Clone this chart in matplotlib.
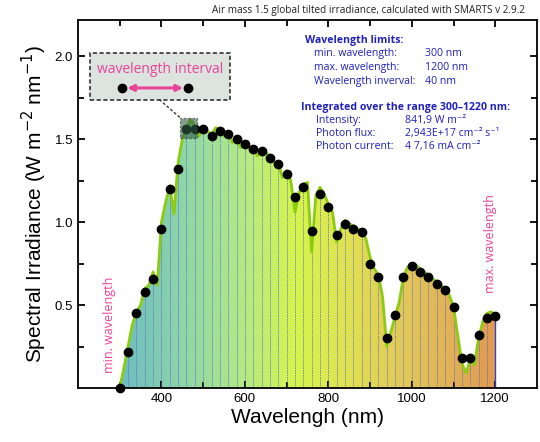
import numpy as np
import matplotlib.pyplot as plt
from matplotlib.colors import LinearSegmentedColormap
from matplotlib.patches import Rectangle

# sampled points every 20 nm (black dots)
wl_pts = np.arange(300, 1201, 20)
irr_pts = [0.00, 0.22, 0.45, 0.58, 0.66, 0.96, 1.20, 1.32, 1.56, 1.56,
           1.56, 1.52, 1.55, 1.53, 1.50, 1.47, 1.44, 1.43, 1.39, 1.35,
           1.29, 1.15, 1.21, 0.95, 1.17, 1.09, 0.92, 0.99, 0.96, 0.94,
           0.75, 0.67, 0.30, 0.44, 0.67, 0.735, 0.70, 0.67, 0.63, 0.59,
           0.49, 0.18, 0.18, 0.32, 0.42, 0.435]

# fine spectrum (green line), read every 10 nm
wl_fine = np.arange(300, 1201, 10)
irr_fine = [0.00, 0.12, 0.25, 0.38, 0.46, 0.50, 0.60, 0.62, 0.70, 0.62,
            1.00, 1.12, 1.22, 1.05, 1.36, 1.50, 1.57, 1.62, 1.58, 1.52,
            1.58, 1.55, 1.53, 1.57, 1.56, 1.52, 1.54, 1.48, 1.51, 1.45,
            1.48, 1.45, 1.45, 1.40, 1.44, 1.42, 1.40, 1.36, 1.36, 1.27,
            1.31, 1.25, 1.06, 1.18, 1.23, 1.24, 0.82, 1.16, 1.21, 1.17,
            1.11, 1.06, 0.88, 0.96, 1.01, 0.99, 0.98, 0.96, 0.95, 0.90,
            0.79, 0.72, 0.68, 0.55, 0.25, 0.34, 0.43, 0.52, 0.67, 0.73,
            0.75, 0.74, 0.72, 0.70, 0.68, 0.66, 0.64, 0.62, 0.60, 0.56,
            0.49, 0.32, 0.15, 0.09, 0.17, 0.14, 0.30, 0.40, 0.45, 0.46, 0.44]

title = 'Air mass 1.5 global tilted irradiance, calculated with SMARTS v 2.9.2'
limit_rows = [('min. wavelength:', '300 nm'),
              ('max. wavelength:', '1200 nm'),
              ('Wavelength inverval:', '40 nm')]
integ_rows = [('Intensity:', '841,9 W m⁻²'),
              ('Photon flux:', '2,943E+17 cm⁻² s⁻¹'),
              ('Photon current:', '4 7,16 mA cm⁻²')]

txt_font = ['Open Sans', 'DejaVu Sans']
lab_font = ['Liberation Sans', 'DejaVu Sans']
blue = '#2020bb'
pink = '#e8449a'

fig = plt.figure(figsize=(5.4, 4.42), dpi=100)
ax = fig.add_axes([0.1444, 0.1222, 0.85, 0.8326])
ax.set_xlim(200, 1300)
ax.set_ylim(0, 2.22)

# gradient fill under the spectrum
cmap = LinearSegmentedColormap.from_list('spec', [
    (0.0, '#6cbcc0'), (0.17, '#8fd6a8'), (0.33, '#b4ea84'),
    (0.47, '#d6f54c'), (0.6, '#e0e252'), (0.78, '#e2c45a'), (1.0, '#e09a52')])
grad = np.linspace(0, 1, 256).reshape(1, -1)
im = ax.imshow(grad, extent=[300, 1200, 0, 2.22], aspect='auto', cmap=cmap,
               origin='lower', zorder=1)
poly = ax.fill_between(wl_fine, 0, irr_fine, color='none', lw=0)
im.set_clip_path(poly.get_paths()[0], transform=ax.transData)

ax.vlines(wl_pts[:-1], 0, irr_pts[:-1], colors='#5a64c8', lw=0.7,
          linestyles=(0, (1.5, 1.0)), alpha=0.75, zorder=2)
ax.vlines(wl_pts[-1], 0, irr_pts[-1], colors='#3a40c0', lw=1.0, zorder=2)

ax.plot(wl_fine, irr_fine, color='#8ccc10', lw=2.0, zorder=3)
ax.plot(wl_pts, irr_pts, 'o', color='black', ms=6, zorder=4, clip_on=False)

# inset "wavelength interval"
box = Rectangle((229, 1.74), 335, 0.28, fc='#dde3de', ec='#333333', lw=1.2,
                ls=(0, (2.5, 1.5)), zorder=5)
ax.add_patch(box)
ax.text(396, 1.92, 'wavelength interval', color=pink, fontsize=10,
        family=txt_font, ha='center', va='center', zorder=6)
ax.plot([305, 464], [1.81, 1.81], 'o', color='black', ms=6, zorder=6)
ax.annotate('', xy=(452, 1.81), xytext=(318, 1.81), zorder=6,
            arrowprops=dict(arrowstyle='<|-|>', color=pink, lw=2.2,
                            mutation_scale=9, shrinkA=0, shrinkB=0))
ax.add_patch(Rectangle((445, 1.51), 41, 0.12, fc='#2f5e45', alpha=0.6,
                       ec='#333333', lw=0.9, ls=(0, (2, 1.5)), zorder=5))
ax.plot([395, 445], [1.74, 1.63], color='#333333', lw=1.0,
        ls=(0, (2, 1.5)), zorder=5)

# limits labels
ax.text(276, 0.38, 'min. wavelength', rotation=90, color=pink, fontsize=9,
        family=txt_font, ha='center', va='center')
ax.text(1188, 0.87, 'max. wavelength', rotation=90, color=pink, fontsize=9,
        family=txt_font, ha='center', va='center')

# info text block (axes pixel positions)
def px(x, y):
    return (x - 78) / 459, (388 - y) / 368

ax.text(*px(305, 41), 'Wavelength limits:', transform=ax.transAxes, color=blue,
        fontsize=7.6, weight='bold', family=txt_font, va='center')
for i, (k, v) in enumerate(limit_rows):
    ax.text(*px(314, 54 + 14 * i), k, transform=ax.transAxes, color=blue,
            fontsize=7.6, family=txt_font, va='center')
    ax.text(*px(425, 54 + 14 * i), v, transform=ax.transAxes, color=blue,
            fontsize=7.6, family=txt_font, va='center')
ax.text(*px(301, 108), 'Integrated over the range 300–1220 nm:',
        transform=ax.transAxes, color=blue, fontsize=7.6, weight='bold',
        family=txt_font, va='center')
for i, (k, v) in enumerate(integ_rows):
    ax.text(*px(316, 121 + 13 * i), k, transform=ax.transAxes, color=blue,
            fontsize=7.6, family=txt_font, va='center')
    ax.text(*px(405, 121 + 13 * i), v, transform=ax.transAxes, color=blue,
            fontsize=7.6, family=txt_font, va='center')

fig.text(525 / 540, 1 - 10 / 442, title, ha='right', va='center',
         fontsize=7.2, family=txt_font, color='#222222')

ax.set_xticks([400, 600, 800, 1000, 1200])
ax.set_xticks(np.arange(300, 1300, 100), minor=True)
ax.set_yticks([0.5, 1.0, 1.5, 2.0])
ax.set_yticks([0.25, 0.75, 1.25, 1.75], minor=True)
ax.tick_params(which='both', direction='in', top=True, right=True,
               width=1.3, labelsize=9.5)
ax.tick_params(which='major', length=5)
ax.tick_params(which='minor', length=4)
for lab in ax.get_xticklabels() + ax.get_yticklabels():
    lab.set_family(lab_font)
for s in ax.spines.values():
    s.set_linewidth(1.3)

ax.set_xlabel('Wavelengh (nm)', fontsize=15, family=lab_font, labelpad=2)
ax.set_ylabel('Spectral Irradiance (W m$^{-2}$ nm$^{-1}$)', fontsize=15,
              family=lab_font, labelpad=4)

fig.savefig('out.png', dpi=100)
